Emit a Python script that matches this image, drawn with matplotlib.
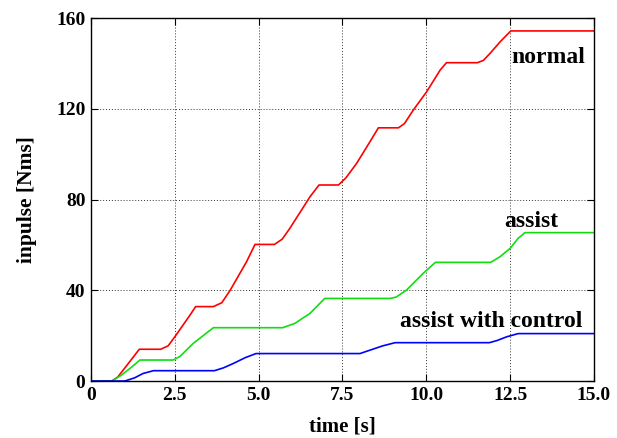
import matplotlib
matplotlib.use("Agg")
import matplotlib.pyplot as plt

# Cumulative impulse over time for three operating modes
t_normal = [0, 0.62, 0.8, 1.1, 1.44, 2.08, 2.3, 2.5, 2.95, 3.12, 3.65, 3.9, 4.15, 4.64, 4.89,
            5.47, 5.7, 5.93, 6.53, 6.80, 7.38, 7.6, 7.92, 8.3, 8.57, 9.17, 9.35, 9.61, 10.01,
            10.41, 10.60, 11.52, 11.7, 11.9, 12.2, 12.52, 15.0]
v_normal = [0, 0, 1.8, 7.5, 14.0, 14.0, 15.5, 19.5, 29.0, 32.8, 32.8, 34.5, 40.0, 52.6, 60.2,
            60.2, 62.5, 67.3, 81.2, 86.4, 86.4, 89.5, 95.9, 105.0, 111.6, 111.6, 113.5, 119.4, 127.5,
            137.0, 140.3, 140.3, 141.3, 144.4, 149.5, 154.3, 154.3]

t_assist = [0, 0.62, 0.9, 1.2, 1.46, 2.45, 2.65, 3.05, 3.65, 5.72, 6.08, 6.53, 6.97,
            8.92, 9.1, 9.41, 9.91, 10.27, 11.92, 12.2, 12.5, 12.74, 12.94, 15.0]
v_assist = [0, 0, 2.5, 6.0, 9.25, 9.25, 10.8, 16.6, 23.5, 23.5, 25.4, 29.8, 36.4,
            36.4, 37.0, 40.1, 47.5, 52.3, 52.3, 54.8, 58.5, 62.9, 65.4, 65.4]

t_control = [0, 1.01, 1.3, 1.55, 1.86, 3.68, 3.95, 4.24, 4.6, 4.92, 8.02, 8.3, 8.7, 9.07,
             11.88, 12.1, 12.4, 12.74, 15.0]
v_control = [0, 0, 1.4, 3.3, 4.55, 4.55, 5.8, 7.7, 10.3, 12.1, 12.1, 13.5, 15.5, 16.9,
             16.9, 17.8, 19.5, 20.9, 20.9]

x_ticks = [0, 2.5, 5.0, 7.5, 10.0, 12.5, 15.0]
x_tick_labels = ["0", "2.5", "5.0", "7.5", "10.0", "12.5", "15.0"]
y_ticks = [0, 40, 80, 120, 160]
y_tick_labels = ["0", "40", "80", "120", "160"]

plt.rcParams["font.family"] = ["Liberation Serif", "DejaVu Serif"]
plt.rcParams["font.weight"] = "bold"

fig = plt.figure(figsize=(6.17, 4.38), dpi=100)
ax = fig.add_axes([0.1475, 0.1301, 0.8152, 0.8288])

ax.plot(t_normal, v_normal, color="#ff0000", lw=1.2)
ax.plot(t_assist, v_assist, color="#11dd11", lw=1.2)
ax.plot(t_control, v_control, color="#0000ff", lw=1.2)

ax.set_xlim(0, 15)
ax.set_ylim(0, 160)
ax.set_xticks(x_ticks)
ax.set_xticklabels(x_tick_labels)
ax.set_yticks(y_ticks)
ax.set_yticklabels(y_tick_labels)
ax.tick_params(direction="in", length=5, width=0.8, top=True, right=True,
               labelsize=14, pad=4)
for lbl in ax.get_xticklabels() + ax.get_yticklabels():
    lbl.set_fontweight("bold")

ax.grid(True, color="black", linestyle=(0, (1, 2)), linewidth=0.7, alpha=0.8)
for s in ax.spines.values():
    s.set_linewidth(1.0)

ax.set_xlabel("time [s]", fontsize=15, fontweight="bold", labelpad=9)
ax.set_ylabel("inpulse [Nms]", fontsize=15.5, fontweight="bold", labelpad=14)

ax.text(12.53, 140.3, "normal", fontsize=17, fontweight="bold", va="baseline", ha="left")
ax.text(12.32, 68.0, "assist", fontsize=17, fontweight="bold", va="baseline", ha="left")
ax.text(9.22, 23.8, "assist with control", fontsize=17, fontweight="bold", va="baseline", ha="left")

fig.savefig("out.png", dpi=100)
